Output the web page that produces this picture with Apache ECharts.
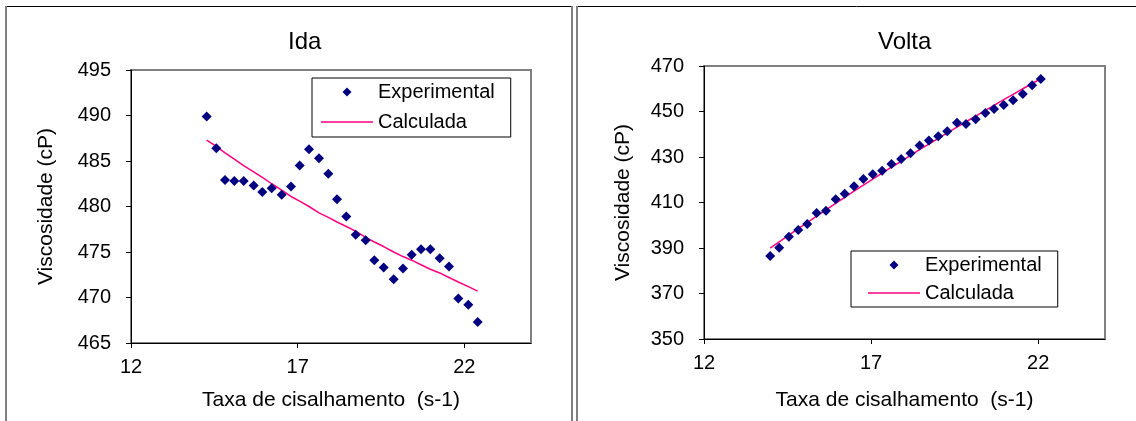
<!DOCTYPE html>
<html><head><meta charset="utf-8">
<script src="https://cdn.jsdelivr.net/npm/echarts@6/dist/echarts.min.js"></script>
<style>html,body{margin:0;padding:0;background:#fff}#c{width:1136px;height:421px}</style>
</head><body><div id="c"></div>
<script>
// ---- data ----
const idaX = [14.27,14.56,14.82,15.10,15.38,15.68,15.94,16.22,16.52,16.80,17.06,17.34,17.64,17.92,18.18,18.46,18.74,19.04,19.30,19.58,19.88,20.16,20.42,20.70,20.98,21.26,21.54,21.82,22.12,22.40];
const idaExp = [489.9,486.4,482.9,482.8,482.8,482.3,481.6,482.0,481.3,482.2,484.5,486.3,485.3,483.6,480.8,478.9,476.9,476.3,474.1,473.3,472.0,473.2,474.7,475.3,475.3,474.3,473.4,469.9,469.2,467.3];
const idaCalc = [487.3,486.6,485.9,485.2,484.5,483.8,483.2,482.5,481.8,481.1,480.6,480.0,479.3,478.8,478.3,477.8,477.3,476.6,476.1,475.6,475.0,474.5,474.1,473.6,473.1,472.7,472.2,471.7,471.2,470.7];

const voltaX = [13.98,14.25,14.54,14.82,15.09,15.37,15.65,15.94,16.21,16.49,16.77,17.05,17.33,17.61,17.90,18.18,18.45,18.73,19.01,19.28,19.57,19.84,20.13,20.42,20.68,20.97,21.25,21.54,21.82,22.08];
const voltaExp = [386.5,390.1,395.0,397.9,400.5,405.4,406.4,411.4,413.9,417.1,420.3,422.4,424.0,426.9,429.1,431.6,435.1,437.2,439.1,441.3,445.1,444.5,446.6,449.3,451.1,452.9,454.9,457.7,461.5,464.3];
const voltaCalc = [389.9,392.7,395.7,398.5,401.2,404.0,406.8,409.6,412.3,415.0,417.6,420.3,422.9,425.5,428.1,430.7,433.2,435.7,438.2,440.6,443.1,445.5,448.0,450.5,452.7,455.2,457.5,460.0,462.3,464.4];

const xTicks = [12,17,22];
const idaYTicks = [465,470,475,480,485,490,495];
const voltaYTicks = [350,370,390,410,430,450,470];

const titles = ['Ida','Volta'];
const xName = 'Taxa de cisalhamento  (s-1)';
const yName = 'Viscosidade (cP)';
const seriesNames = ['Experimental','Calculada'];

// ---- chart ----
const FONT = '"Liberation Sans", Arial, sans-serif';
const EXP_COLOR = '#000080';
const CALC_COLOR = '#FF0080';
const pairs = (xs, ys) => xs.map((x, i) => [x, ys[i]]);

// legend icons: full-width boxes so nothing is stretched
const DIAMOND_ICON = 'path://M0,0 M52,10 M21.5,5 L26,0.5 L30.5,5 L26,9.5 Z';
const LINE_ICON = 'path://M0,0 M52,10 M0,4.25 L52,4.25 L52,5.75 L0,5.75 Z';

function xAxis(gi, gap) {
  return {
    type: 'value', gridIndex: gi, min: 12, max: 24,
    axisLine: {show: true, onZero: false, lineStyle: {color: '#000', width: 1}},
    axisTick: {show: true, length: 5, customValues: xTicks, lineStyle: {color: '#000'}},
    axisLabel: {customValues: xTicks, fontSize: 20, color: '#000', margin: 14, fontFamily: FONT},
    splitLine: {show: false},
    name: xName, nameLocation: 'middle', nameGap: gap,
    nameTextStyle: {fontSize: 21, color: '#000', fontFamily: FONT}
  };
}
function yAxis(gi, min, max, ticks, gap) {
  return {
    type: 'value', gridIndex: gi, min: min, max: max,
    axisLine: {show: true, onZero: false, lineStyle: {color: '#000', width: 1}},
    axisTick: {show: true, length: 5, customValues: ticks, lineStyle: {color: '#000'}},
    axisLabel: {customValues: ticks, fontSize: 20, color: '#000', margin: 20, fontFamily: FONT},
    splitLine: {show: false},
    name: yName, nameLocation: 'middle', nameGap: gap,
    nameTextStyle: {fontSize: 21, color: '#000', fontFamily: FONT}
  };
}
function legend(left, top, padding, gap) {
  return {
    data: [
      {name: seriesNames[0], icon: DIAMOND_ICON, itemStyle: {color: EXP_COLOR, opacity: 1}},
      {name: seriesNames[1], icon: LINE_ICON, itemStyle: {color: CALC_COLOR, opacity: 1}}
    ],
    orient: 'vertical', left: left, top: top,
    borderColor: '#000', borderWidth: 1, padding: padding,
    itemWidth: 52, itemHeight: 10, itemGap: gap, selectedMode: false,
    textStyle: {fontSize: 20, lineHeight: 24, color: '#000', fontFamily: FONT}
  };
}

const option = {
  animation: false,
  backgroundColor: '#fff',
  textStyle: {fontFamily: FONT},
  title: [
    {text: titles[0], left: 288, top: 30, padding: 0, textStyle: {fontSize: 24, fontWeight: 'normal', color: '#000', fontFamily: FONT}},
    {text: titles[1], left: 878, top: 30, padding: 0, textStyle: {fontSize: 24, fontWeight: 'normal', color: '#000', fontFamily: FONT}}
  ],
  grid: [
    {left: 131, top: 70, width: 400, height: 273, show: true, borderColor: '#808080', borderWidth: 2, backgroundColor: '#fff'},
    {left: 704, top: 66, width: 401, height: 273, show: true, borderColor: '#808080', borderWidth: 2, backgroundColor: '#fff'}
  ],
  xAxis: [xAxis(0, 47), xAxis(1, 51)],
  yAxis: [yAxis(0, 465, 495, idaYTicks, 74), yAxis(1, 350, 470, voltaYTicks, 70)],
  legend: [legend(312, 78, [2, 16, 3, 9], 6), legend(851, 251, [2, 16, 2, 17], 4)],
  graphic: [
    {type: 'line', shape: {x1: 6, y1: 6.5, x2: 572, y2: 6.5}, style: {stroke: '#000', lineWidth: 1}},
    {type: 'line', shape: {x1: 6, y1: 6, x2: 6, y2: 421}, style: {stroke: '#808080', lineWidth: 2}},
    {type: 'line', shape: {x1: 572, y1: 6, x2: 572, y2: 421}, style: {stroke: '#808080', lineWidth: 2}},
    {type: 'line', shape: {x1: 577, y1: 6.5, x2: 1136, y2: 6.5}, style: {stroke: '#000', lineWidth: 1}},
    {type: 'line', shape: {x1: 577, y1: 6, x2: 577, y2: 421}, style: {stroke: '#808080', lineWidth: 2}}
  ],
  series: [
    {name: seriesNames[1], type: 'line', xAxisIndex: 0, yAxisIndex: 0, data: pairs(idaX, idaCalc), symbol: 'none', z: 2,
     lineStyle: {color: CALC_COLOR, width: 1.5}, itemStyle: {color: CALC_COLOR}},
    {name: seriesNames[0], type: 'scatter', xAxisIndex: 0, yAxisIndex: 0, data: pairs(idaX, idaExp), symbol: 'diamond', symbolSize: 10, z: 3,
     itemStyle: {color: EXP_COLOR, opacity: 1}},
    {name: seriesNames[1], type: 'line', xAxisIndex: 1, yAxisIndex: 1, data: pairs(voltaX, voltaCalc), symbol: 'none', z: 2,
     lineStyle: {color: CALC_COLOR, width: 1.5}, itemStyle: {color: CALC_COLOR}},
    {name: seriesNames[0], type: 'scatter', xAxisIndex: 1, yAxisIndex: 1, data: pairs(voltaX, voltaExp), symbol: 'diamond', symbolSize: 10, z: 3,
     itemStyle: {color: EXP_COLOR, opacity: 1}}
  ]
};
const chart = echarts.init(document.getElementById('c'), null, {renderer: 'canvas'});
chart.setOption(option);
</script></body></html>
